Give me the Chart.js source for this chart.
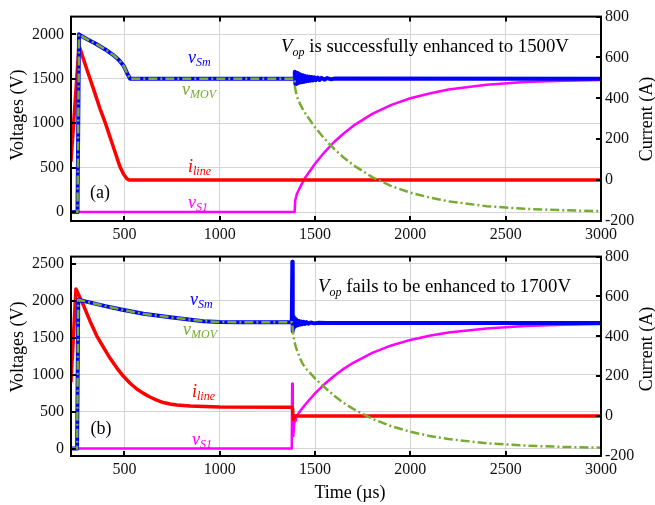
<!DOCTYPE html>
<html><head><meta charset="utf-8">
<script src="https://cdn.jsdelivr.net/npm/chart.js@4.4.1/dist/chart.umd.min.js"></script>
<style>
body{margin:0;background:#fff;width:655px;height:505px;overflow:hidden;position:relative}
.w{position:absolute;left:0;width:655px}
</style></head>
<body>
<div class="w" style="top:0;height:242px"><canvas id="c1" width="655" height="242" style="width:655px;height:242px"></canvas></div>
<div class="w" style="top:240px;height:265px"><canvas id="c2" width="655" height="265" style="width:655px;height:265px"></canvas></div>
<script>
// ---- tick labels ----
const xTicks = [500, 1000, 1500, 2000, 2500, 3000];
const vTicksA = [0, 500, 1000, 1500, 2000];
const vTicksB = [0, 500, 1000, 1500, 2000, 2500];
const iTicks = [-200, 0, 200, 400, 600, 800];

// ---- (a) series ----
const aSmT = [220, 254, 262, 300, 350, 400, 440, 470, 495, 515, 530, 1392,
  1394, 1397, 1400, 1403, 1406, 1409, 1412, 1415, 1418, 1421, 1424, 1428, 1432, 1436, 1440, 1444, 1449, 1454, 1459, 1464, 1470, 1476, 1482, 1489, 1496, 1504, 1514, 1524, 1534, 1549, 1564, 1584, 1604, 3000];
const aSmV = [0, 0, 2000, 1950, 1895, 1830, 1770, 1715, 1650, 1560, 1500, 1500,
  1580, 1440, 1570, 1445, 1565, 1450, 1555, 1455, 1550, 1460, 1545, 1462, 1540, 1465, 1535, 1468, 1530, 1472, 1527, 1476, 1524, 1479, 1520, 1482, 1517, 1485, 1514, 1488, 1511, 1491, 1508, 1494, 1504, 1500];
const aMovT = [220, 254, 262, 300, 350, 400, 440, 470, 495, 515, 530, 1393, 1395, 1405, 1425, 1450, 1500, 1550, 1600, 1650, 1700, 1800, 1900, 2000, 2100, 2200, 2400, 2600, 2800, 3000];
const aMovV = [0, 0, 2000, 1950, 1895, 1830, 1770, 1715, 1650, 1560, 1500, 1500, 1400, 1300, 1200, 1107, 955, 824, 711, 615, 530, 394, 293, 219, 165, 121, 67, 37, 21, 11];
const aLineT = [220, 262, 302, 340, 372, 400, 425, 450, 477, 495, 512, 525, 3000];
const aLineV = [90, 658, 545, 440, 350, 280, 210, 140, 65, 30, 8, 0, 0];
const aS1T = [255, 1393, 1396, 1405, 1425, 1450, 1500, 1550, 1600, 1650, 1700, 1800, 1900, 2000, 2100, 2200, 2400, 2600, 2800, 3000];
const aS1V = [0, 0, 130, 207, 295, 393, 545, 676, 789, 885, 970, 1106, 1207, 1281, 1335, 1379, 1433, 1463, 1479, 1488];

// ---- (b) series ----
const bSmT = [220, 252, 258, 300, 400, 477, 600, 740, 914, 1000, 1100, 1378,
  1381, 1383, 1385, 1387, 1390, 1393, 1396, 1399, 1402, 1406, 1410, 1414, 1418, 1423, 1428, 1434, 1440, 1447, 1455, 1465, 1478, 1495, 1520, 1560, 3000];
const bSmV = [0, 0, 2015, 1990, 1930, 1887, 1825, 1778, 1726, 1715, 1712, 1710,
  2530, 1590, 1790, 1630, 1770, 1650, 1750, 1660, 1740, 1670, 1732, 1675, 1726, 1680, 1720, 1684, 1716, 1688, 1712, 1692, 1708, 1696, 1704, 1700, 1700];
const bMovT = [220, 252, 258, 300, 400, 477, 600, 740, 914, 1000, 1100, 1380, 1383, 1386, 1390, 1400, 1420, 1437, 1450, 1500, 1550, 1600, 1650, 1700, 1800, 1900, 2000, 2100, 2200, 2400, 2600, 2800, 3000];
const bMovV = [0, 0, 2015, 1990, 1930, 1887, 1825, 1778, 1726, 1715, 1712, 1710, 1600, 1540, 1470, 1370, 1230, 1140, 1090, 950, 830, 716, 620, 538, 404, 303, 228, 172, 129, 73, 41, 23, 13];
const bLineT = [220, 246, 285, 320, 355, 389, 425, 460, 494, 530, 565, 600, 634, 670, 704, 740, 775, 844, 920, 1000, 1379, 1382, 1386, 1390, 1396, 3000];
const bLineV = [170, 638, 557, 476, 403, 347, 290, 242, 201, 165, 136, 114, 96, 80, 68, 61, 56, 51, 48, 46, 45, 40, -17, -10, 0, 0];
const bS1T = [255, 1378, 1380, 1383, 1386, 1390, 1395, 1400, 1425, 1450, 1500, 1550, 1600, 1650, 1700, 1800, 1900, 2000, 2100, 2200, 2400, 2600, 2800, 3000];
const bS1V = [0, 0, 880, 450, 170, 330, 380, 430, 520, 601, 747, 874, 984, 1080, 1162, 1296, 1397, 1472, 1528, 1571, 1627, 1659, 1677, 1687];

// ---- styling ----
const FONT = "'Liberation Serif', 'Times New Roman', serif";
const BLUE = '#0000ff', GREEN = '#77ac30', RED = '#ff0000', MAG = '#ff00ff';
const GRID = '#d4d4d4';
const zip = (t, v) => t.map((x, i) => ({x: x, y: v[i]}));

function rich(ctx, x, y, parts, color) {
  let cx = x;
  ctx.fillStyle = color;
  ctx.textBaseline = 'alphabetic';
  ctx.textAlign = 'left';
  for (const p of parts) {
    ctx.font = p.f;
    ctx.fillText(p.t, cx, y + (p.dy || 0));
    cx += ctx.measureText(p.t).width;
  }
}
const it18 = 'italic 18px ' + FONT, it12 = 'italic 12px ' + FONT, rm18 = '18px ' + FONT;
const itN = 'italic 18.8px ' + FONT, rmN = '18.8px ' + FONT;

const deco = {
  id: 'deco',
  afterDraw(chart, args, o) {
    const ctx = chart.ctx, a = chart.chartArea, s = chart.scales;
    ctx.save();
    ctx.strokeStyle = '#000';
    ctx.lineWidth = 2;
    const ln = (x1, y1, x2, y2) => { ctx.beginPath(); ctx.moveTo(x1, y1); ctx.lineTo(x2, y2); ctx.stroke(); };
    xTicks.forEach(v => { const x = Math.round(s.x.getPixelForValue(v)); ln(x, a.top, x, a.top + 5); ln(x, a.bottom, x, a.bottom - 5); });
    o.vTicks.forEach(v => { const y = Math.round(s.yv.getPixelForValue(v)); ln(a.left, y, a.left + 5, y); });
    iTicks.forEach(v => { const y = Math.round(s.yi.getPixelForValue(v)); ln(a.right, y, a.right - 5, y); });
    ctx.strokeRect(a.left, a.top, a.right - a.left, a.bottom - a.top);
    for (const L of o.labels) rich(ctx, L.x, L.y, L.parts, L.c);
    rich(ctx, o.note.x, o.note.y, [{t: 'V', f: itN}, {t: 'op', f: it12, dy: 4}, {t: o.note.text, f: rmN}], '#000');
    ctx.fillStyle = '#000'; ctx.font = rm18; ctx.textAlign = 'center'; ctx.textBaseline = 'middle';
    ctx.fillText(o.tag.t, o.tag.x, o.tag.y);
    ctx.save(); ctx.translate(18, o.vTitleY); ctx.rotate(-Math.PI / 2); ctx.fillText('Voltages (V)', 0, 0); ctx.restore();
    ctx.save(); ctx.translate(647, o.iTitleY); ctx.rotate(-Math.PI / 2); ctx.fillText('Current (A)', 0, 0); ctx.restore();
    if (o.xTitle) ctx.fillText('Time (\u00b5s)', 350, o.xTitle);
    ctx.restore();
  }
};

function makeChart(id, d, cfg) {
  const ds = (data, color, w, order, dash) => ({
    data: data, borderColor: color, borderWidth: w, pointRadius: 0, tension: 0,
    fill: false, order: order, borderDash: dash || [], yAxisID: 'yv', borderCapStyle: 'butt', borderJoinStyle: 'round'
  });
  const sets = [
    ds(zip(d.movT, d.movV), GREEN, 2.5, 0, [9, 3, 2, 3]),
    ds(zip(d.smT, d.smV), BLUE, 4, 1),
    Object.assign(ds(zip(d.lineT, d.lineV), RED, 3.5, 2), {yAxisID: 'yi'}),
    ds(zip(d.s1T, d.s1V), MAG, 2.5, 3)
  ];
  const tickFont = {family: FONT, size: 16};
  const plain = v => String(v);
  return new Chart(document.getElementById(id), {
    type: 'line',
    data: {datasets: sets},
    options: {
      responsive: false, animation: false, devicePixelRatio: 1,
      layout: {padding: {top: cfg.padTop, left: 0, right: 0, bottom: 0}},
      plugins: {legend: {display: false}, tooltip: {enabled: false}, deco: cfg.deco},
      scales: {
        x: {
          type: 'linear', min: 220, max: 3000,
          afterBuildTicks: sc => { sc.ticks = xTicks.map(v => ({value: v})); },
          afterFit: sc => { sc.height = cfg.xH; },
          grid: {color: GRID, lineWidth: 1, drawTicks: false},
          border: {display: false},
          ticks: {font: tickFont, color: '#111', padding: 4, maxRotation: 0, autoSkip: false, callback: plain}
        },
        yv: {
          type: 'linear', position: 'left', min: -100, max: cfg.vMax,
          afterBuildTicks: sc => { sc.ticks = cfg.vTicks.map(v => ({value: v})); },
          afterFit: sc => { sc.width = 71; },
          grid: {color: GRID, lineWidth: 1, drawTicks: false},
          border: {display: false},
          ticks: {font: tickFont, color: '#111', padding: 7, callback: plain}
        },
        yi: {
          type: 'linear', position: 'right', min: -200, max: 800,
          afterBuildTicks: sc => { sc.ticks = iTicks.map(v => ({value: v})); },
          afterFit: sc => { sc.width = 54; },
          grid: {drawOnChartArea: false, drawTicks: false},
          border: {display: false},
          ticks: {font: tickFont, color: '#111', padding: 4, callback: plain}
        }
      }
    },
    plugins: [deco]
  });
}

makeChart('c1',
  {smT: aSmT, smV: aSmV, movT: aMovT, movV: aMovV, lineT: aLineT, lineV: aLineV, s1T: aS1T, s1V: aS1V},
  {padTop: 14, xH: 21, vMax: 2200, vTicks: vTicksA,
   deco: {vTicks: vTicksA, vTitleY: 115, iTitleY: 119,
     labels: [
       {x: 188, y: 63, c: BLUE, parts: [{t: 'v', f: it18}, {t: 'Sm', f: it12, dy: 3}]},
       {x: 182, y: 95, c: GREEN, parts: [{t: 'v', f: it18}, {t: 'MOV', f: it12, dy: 3}]},
       {x: 188, y: 172, c: RED, parts: [{t: 'i', f: it18}, {t: 'line', f: it12, dy: 3}]},
       {x: 188, y: 208, c: MAG, parts: [{t: 'v', f: it18}, {t: 'S1', f: it12, dy: 3}]}
     ],
     note: {x: 281, y: 52, text: ' is successfully enhanced to 1500V'},
     tag: {t: '(a)', x: 100, y: 193}}});

makeChart('c2',
  {smT: bSmT, smV: bSmV, movT: bMovT, movV: bMovV, lineT: bLineT, lineV: bLineV, s1T: bS1T, s1V: bS1V},
  {padTop: 10, xH: 49, vMax: 2600, vTicks: vTicksB,
   deco: {vTicks: vTicksB, vTitleY: 107, iTitleY: 109, xTitle: 253,
     labels: [
       {x: 190, y: 65, c: BLUE, parts: [{t: 'v', f: it18}, {t: 'Sm', f: it12, dy: 3}]},
       {x: 183, y: 95, c: GREEN, parts: [{t: 'v', f: it18}, {t: 'MOV', f: it12, dy: 3}]},
       {x: 192, y: 157, c: RED, parts: [{t: 'i', f: it18}, {t: 'line', f: it12, dy: 3}]},
       {x: 192, y: 205, c: MAG, parts: [{t: 'v', f: it18}, {t: 'S1', f: it12, dy: 3}]}
     ],
     note: {x: 318, y: 52, text: ' fails to be enhanced to 1700V'},
     tag: {t: '(b)', x: 101, y: 189}}});
</script>
</body></html>
